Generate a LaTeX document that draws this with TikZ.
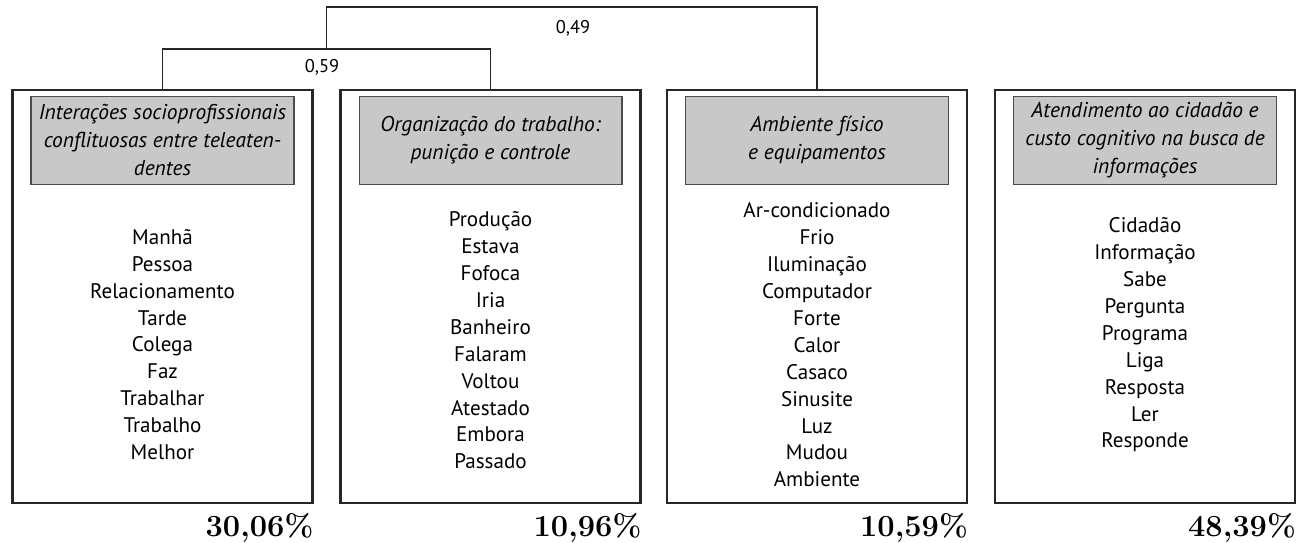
\documentclass[tikz,border=0pt]{standalone}
\usepackage{fontspec}
\newfontfamily\wordfont{PT Sans}
\usetikzlibrary{positioning,calc}
\definecolor{headgray}{HTML}{C8C8C8}

\begin{document}
\begin{tikzpicture}[x=0.02cm,y=-0.02cm,
 frame/.style={draw=black!85,line width=1.4pt,minimum width=6.0cm,
  minimum height=8.26cm,inner sep=0pt},
 head/.style={draw=black!70,line width=0.6pt,fill=headgray,align=center,
  minimum width=5.26cm,minimum height=1.76cm,inner sep=2pt,
  font=\wordfont\itshape\fontsize{12.2}{15.9}\selectfont},
 words/.style={align=center,font=\wordfont\fontsize{12}{15.3}\selectfont},
 pct/.style={anchor=east,inner sep=0pt,font=\bfseries\fontsize{17.5}{20}\selectfont},
 link/.style={draw=black!85,line width=0.8pt},
 lab/.style={font=\wordfont\fontsize{10.5}{12}\selectfont}]
\useasboundingbox (0,0) rectangle (1298,542);
% the four classes
\node[frame] (b1) at (162.5,296.5) {};
\node[frame] (b2) at (490.5,296.5) {};
\node[frame] (b3) at (817,296.5) {};
\node[frame] (b4) at (1145,296.5) {};
\node[head,below=0.14cm of b1.north] (h1) {Interações socioprofissionais\\ conflituosas entre teleaten-\\ dentes};
\node[head,below=0.14cm of b2.north] (h2) {Organização do trabalho:\\ punição e controle};
\node[head,below=0.14cm of b3.north] (h3) {Ambiente físico\\ e equipamentos};
\node[head,below=0.14cm of b4.north] (h4) {Atendimento ao cidadão e\\ custo cognitivo na busca de\\ informações};
\node[words] (w1) at (162.5,344.5) {Manhã\\ Pessoa\\ Relacionamento\\ Tarde\\ Colega\\ Faz\\ Trabalhar\\ Trabalho\\ Melhor};
\node[words] (w2) at (490.5,340.5) {Produção\\ Estava\\ Fofoca\\ Iria\\ Banheiro\\ Falaram\\ Voltou\\ Atestado\\ Embora\\ Passado};
\node[words] (w3) at (817,345) {Ar-condicionado\\ Frio\\ Iluminação\\ Computador\\ Forte\\ Calor\\ Casaco\\ Sinusite\\ Luz\\ Mudou\\ Ambiente};
\node[words] (w4) at (1145,335) {Cidadão\\ Informação\\ Sabe\\ Pergunta\\ Programa\\ Liga\\ Resposta\\ Ler\\ Responde};
% percentages
\node[pct] (p1) at ($(b1.south east)+(0,24)$) {30,06\%};
\node[pct] (p2) at ($(b2.south east)+(0,24)$) {10,96\%};
\node[pct] (p3) at ($(b3.south east)+(0,24)$) {10,59\%};
\node[pct] (p4) at ($(b4.south east)+(0,24)$) {48,39\%};
% dendrogram
\coordinate (j12) at ($(b1.north)!0.5!(b2.north)+(0,-40)$);
\coordinate (j123) at ($(j12)+(0,-42)$);
\draw[link] (b1.north) |- (j12) -| (b2.north);
\draw[link] (j12) -- (j123) -| (b3.north);
\node[lab] (l1) at (322,67) {0,59};
\node[lab] (l2) at (573,28) {0,49};
\end{tikzpicture}
\end{document}
